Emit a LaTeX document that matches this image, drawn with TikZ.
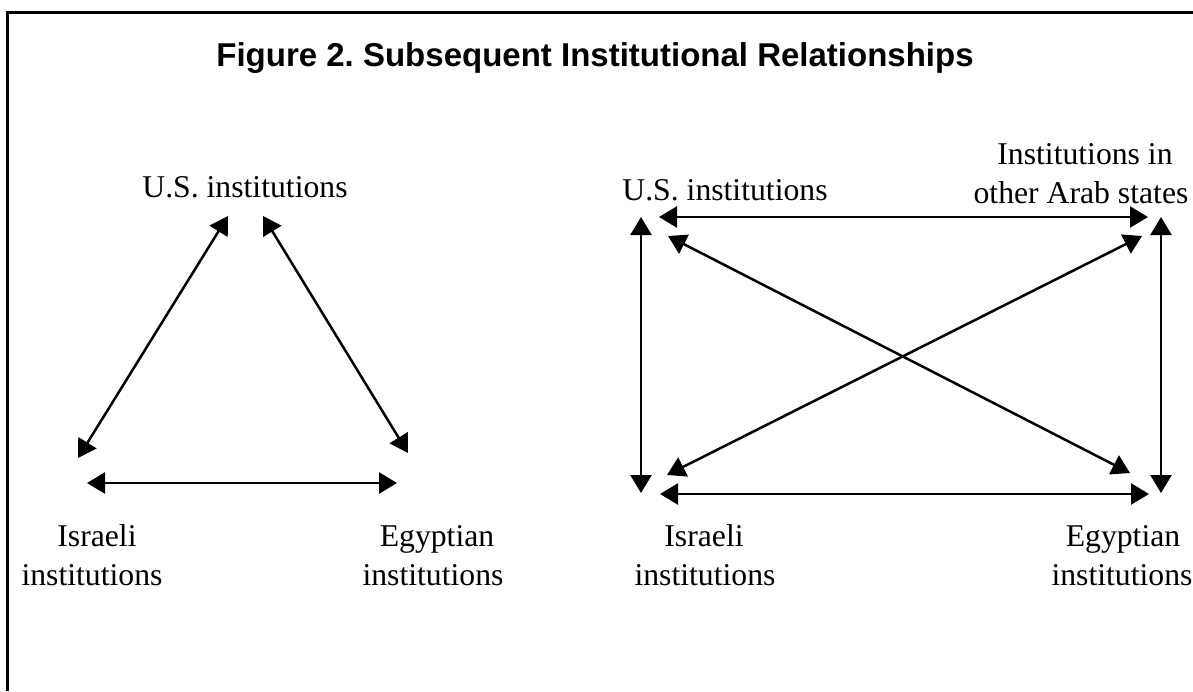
\documentclass[tikz,border=0pt]{standalone}
\usepackage{fontspec}
\setmainfont{Liberation Serif}
\newfontfamily\titlefont{Liberation Sans}
\usetikzlibrary{arrows.meta}
\frenchspacing
\begin{document}
\begin{tikzpicture}[x=1pt,y=-1pt,
  lbl/.style={anchor=base,inner sep=0pt,font=\fontsize{31.7}{39}\selectfont},
  rel/.style={line width=2.5pt,{Triangle[length=18pt,width=21pt]}-{Triangle[length=18pt,width=21pt]}},
  frame/.style={line width=3pt}]
\useasboundingbox (0,0) rectangle (1193,691);
\fill[white] (0,0) rectangle (1193,691);
% frame (top and left edges)
\coordinate (fa) at (7,691);
\coordinate (fb) at (7,12);
\coordinate (fc) at (1195,12);
\draw[frame] (fa) -- (fb) -- (fc);
% title
\node[anchor=base,inner sep=0pt,font=\titlefont\bfseries\fontsize{33}{40}\selectfont] (title) at (595,66) {Figure 2. Subsequent Institutional Relationships};
% left figure labels
\node[lbl] (lus) at (245,197) {U.S. institutions};
\node[lbl] (lis1) at (97,546) {Israeli};
\node[lbl] (lis2) at (92,585) {institutions};
\node[lbl] (leg1) at (437,546) {Egyptian};
\node[lbl] (leg2) at (433,585) {institutions};
% left figure arrow ends
\coordinate (lusA) at (228,216);
\coordinate (lusB) at (263,216);
\coordinate (lisA) at (78,458);
\coordinate (lisB) at (87,483);
\coordinate (legA) at (408,453);
\coordinate (legB) at (397,483);
\draw[rel] (lusA) -- (lisA);
\draw[rel] (lusB) -- (legA);
\draw[rel] (lisB) -- (legB);
% right figure labels
\node[lbl] (rus) at (725,200) {U.S. institutions};
\node[lbl] (rar1) at (1085,164) {Institutions in};
\node[lbl] (rar2) at (1081,203) {other Arab states};
\node[lbl] (ris1) at (704,546) {Israeli};
\node[lbl] (ris2) at (705,585) {institutions};
\node[lbl] (reg1) at (1123,546) {Egyptian};
\node[lbl] (reg2) at (1122,585) {institutions};
% right figure arrow ends
\coordinate (rusH) at (659,217);
\coordinate (rusV) at (641,217);
\coordinate (rusD) at (668,236);
\coordinate (rarH) at (1148,217);
\coordinate (rarV) at (1161,217);
\coordinate (rarD) at (1142,236);
\coordinate (risH) at (660,494);
\coordinate (risV) at (641,493);
\coordinate (risD) at (667,475);
\coordinate (regH) at (1149,494);
\coordinate (regV) at (1161,493);
\coordinate (regD) at (1130,473);
\draw[rel] (rusH) -- (rarH);
\draw[rel] (rusV) -- (risV);
\draw[rel] (rarV) -- (regV);
\draw[rel] (risH) -- (regH);
\draw[rel] (rusD) -- (regD);
\draw[rel] (risD) -- (rarD);
\end{tikzpicture}
\end{document}
